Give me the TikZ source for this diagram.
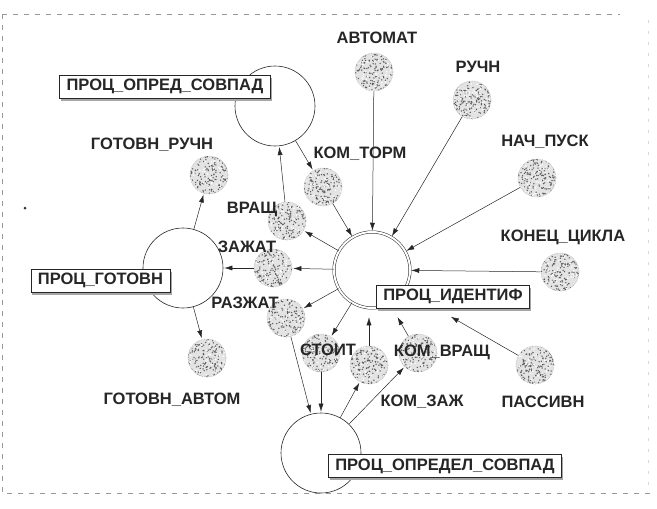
\documentclass[tikz,border=0pt]{standalone}
\usepackage{fontspec}
\setmainfont{Liberation Sans}
\usetikzlibrary{arrows.meta,patterns,shadows,calc}
\begin{document}
\begin{tikzpicture}[x=1pt,y=-1pt,
  lbl/.style={font=\fontsize{16.5}{18}\selectfont\bfseries, text=black!85, inner sep=0pt},
  proc/.style={circle, draw=black!85, line width=0.6pt, minimum size=80pt, inner sep=0pt},
  mainproc/.style={proc, minimum size=76pt, double, double distance=2pt, line width=0.5pt},
  datum/.style={circle, minimum size=38pt, inner sep=0pt, fill=gray!22,
    path picture={
      \foreach \k in {1,...,170}{
        \fill[black!65] ($(path picture bounding box.center)+(rand*19.5pt,rand*19.5pt)$) circle (0.75pt);
      }
      \foreach \k in {1,...,60}{
        \fill[white] ($(path picture bounding box.center)+(rand*19.5pt,rand*19.5pt)$) circle (0.8pt);
      }
    },
    draw=gray!60, densely dotted, line width=0.6pt},
  pbox/.style={draw=black!85, line width=0.5pt, fill=white, font=\fontsize{16.5}{18}\selectfont\bfseries,
    text=black!85, minimum height=23pt, inner xsep=7pt, inner ysep=0pt,
    drop shadow={shadow xshift=1.5pt, shadow yshift=-2.5pt, fill=gray!70, opacity=1}},
  arr/.style={-{Latex[length=8pt,width=5pt]}, draw=black!85, line width=0.5pt, shorten >=1pt},
  frame/.style={draw=gray!80, dash pattern=on 5pt off 6pt, line width=0.6pt}
]
\pgfmathsetseed{7}
\useasboundingbox (0,0) rectangle (657,509);
% frame
\draw[frame] (2,14) -- (620,14);
\draw[frame] (2,14) -- (2,493) -- (650,493);
\draw[draw=gray!30, dash pattern=on 3pt off 8pt, line width=0.5pt] (648,20) -- (648,490);
\fill[black!80] (25,208) circle (1.5pt);

% processes
\node[mainproc] (ident) at (372,270) {};
\node[proc] (opred) at (275,106) {};
\node[proc] (gotov) at (183,268) {};
\node[proc] (opredel) at (321,453) {};

% data
\node[datum] (avtomat) at (374,72) {};
\node[datum] (ruchn) at (472,100) {};
\node[datum] (nachpusk) at (537,178) {};
\node[datum] (konec) at (560,272) {};
\node[datum] (passivn) at (535,365) {};
\node[datum] (komvrasch) at (418,353) {};
\node[datum] (komzazh) at (369,365) {};
\node[datum] (stoit) at (321,353) {};
\node[datum] (razzhat) at (286,318) {};
\node[datum] (zazhat) at (273,268) {};
\node[datum] (vrasch) at (287,221) {};
\node[datum] (komtorm) at (323,187) {};
\node[datum] (gotruchn) at (209,175) {};
\node[datum] (gotavtom) at (207,358) {};

% boxes
\node[pbox] (opredbox) at (165,86.5) {ПРОЦ\_ОПРЕД\_СОВПАД};
\node[pbox] (gotovbox) at (100.5,280.5) {ПРОЦ\_ГОТОВН};
\node[pbox] (identbox) at (453,296.5) {ПРОЦ\_ИДЕНТИФ};
\node[pbox] (opredelbox) at (445,466) {ПРОЦ\_ОПРЕДЕЛ\_СОВПАД};

% arrows into ident
\draw[arr] (avtomat) -- (ident);
\draw[arr] (ruchn) -- (ident);
\draw[arr] (nachpusk) -- (ident);
\draw[arr] (konec) -- (ident);
\draw[arr] (komtorm) -- (ident);
\draw[arr] (komzazh) -- ([xshift=-84pt,yshift=-8pt]identbox.south);
\draw[arr] (komvrasch) -- ([xshift=-56pt,yshift=-8pt]identbox.south);
\draw[arr] (passivn) -- ([xshift=-3pt,yshift=-8pt]identbox.south);
% arrows out of ident
\draw[arr] (ident) -- (vrasch);
\draw[arr] (ident) -- (zazhat);
\draw[arr] (ident) -- (razzhat);
\draw[arr] (ident) -- (stoit);
% opred
\draw[arr] (opred) -- (komtorm);
\draw[arr] (vrasch) -- (opred);
% gotov
\draw[arr] (zazhat) -- (gotov);
\draw[arr] (gotov) -- (gotruchn);
\draw[arr] (gotov) -- (gotavtom);
% opredel
\draw[arr] (razzhat) -- (opredel);
\draw[arr] (stoit) -- (opredel);
\draw[arr] (opredel) -- (komzazh);
\draw[arr] (opredel) -- (komvrasch);

% labels
\node[lbl] (lavtomat) at (377,38) {АВТОМАТ};
\node[lbl] (lruchn) at (478,67) {РУЧН};
\node[lbl] (lnach) at (545,142) {НАЧ\_ПУСК};
\node[lbl] (lkonec) at (563,237) {КОНЕЦ\_ЦИКЛА};
\node[lbl] (lpassivn) at (543,402) {ПАССИВН};
\node[lbl] (lkomzazh) at (422,402) {КОМ\_ЗАЖ};
\node[lbl] (lkomvrasch) at (442,352) {КОМ\_ВРАЩ};
\node[lbl] (lstoit) at (328,350) {СТОИТ};
\node[lbl] (lrazzhat) at (245,303) {РАЗЖАТ};
\node[lbl] (lzazhat) at (247,247) {ЗАЖАТ};
\node[lbl] (lvrasch) at (252,209) {ВРАЩ};
\node[lbl] (lkomtorm) at (360,154) {КОМ\_ТОРМ};
\node[lbl] (lgotruchn) at (152,145) {ГОТОВН\_РУЧН};
\node[lbl] (lgotavtom) at (172,400) {ГОТОВН\_АВТОМ};
\end{tikzpicture}
\end{document}
